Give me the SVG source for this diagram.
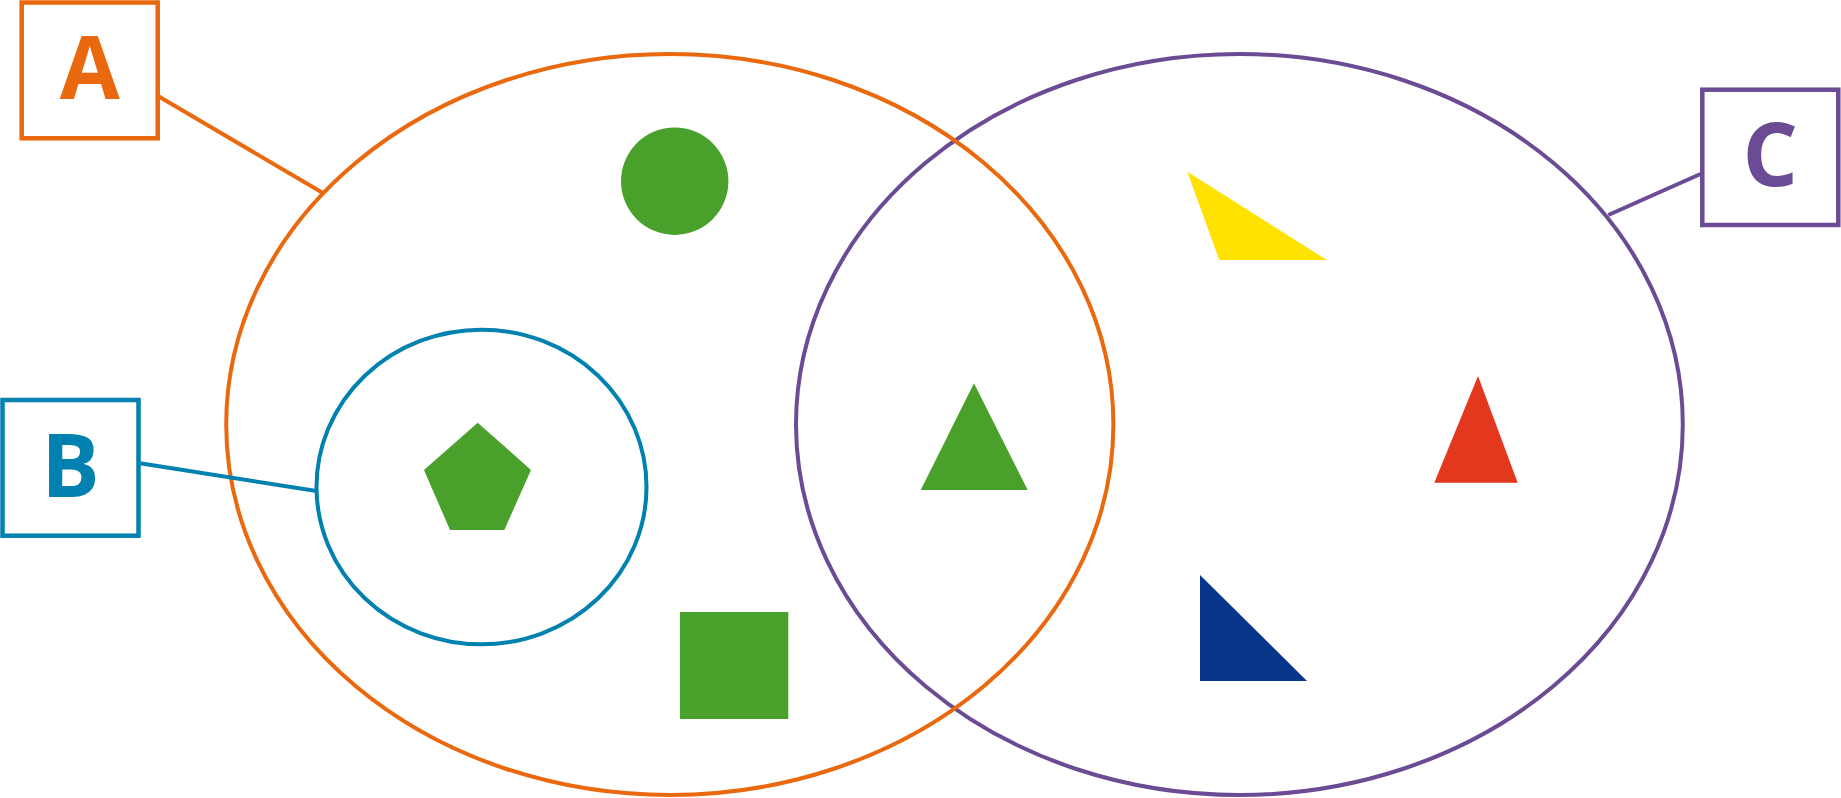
<svg xmlns="http://www.w3.org/2000/svg" width="1841" height="798" viewBox="0 0 1841 798">
<style>
.lbl{font-family:"Open Sans","Liberation Sans",sans-serif;font-weight:700;font-size:87px;text-anchor:middle}
.box{fill:#fff;stroke-width:4.5}
.ring{fill:none;stroke-width:4}
.org{stroke:#EA680E}
.blu{stroke:#0081B0}
.pur{stroke:#6A4B94}
.grn{fill:#49A12C}
</style>
<rect width="1841" height="798" fill="#fff"/>
<g id="set-C"><ellipse class="ring pur" cx="1239.4" cy="424.5" rx="443.4" ry="370.5"/></g>
<g id="set-A"><ellipse class="ring org" cx="669.8" cy="424.5" rx="443.6" ry="370.5"/></g>
<g id="set-B"><ellipse class="ring blu" cx="481.5" cy="487" rx="165" ry="157.3"/></g>
<g id="shapes">
<circle id="green-circle" class="grn" cx="674.7" cy="181.2" r="53.7"/>
<polygon id="green-pentagon" class="grn" points="477.7,422.7 531,470 504.3,530 450,530 424,470"/>
<rect id="green-square" class="grn" x="680" y="612" width="108.3" height="107"/>
<polygon id="green-triangle" class="grn" points="974,383.3 1027.7,490 920.7,490"/>
<polygon id="yellow-triangle" fill="#FFE200" points="1187.3,171.7 1326.7,260 1219.3,260"/>
<polygon id="red-triangle" fill="#E3371E" points="1478,376 1517.7,482.7 1434.3,482.7"/>
<polygon id="navy-triangle" fill="#06358A" points="1200,575 1307,681 1200,681"/>
</g>
<g id="connectors" fill="none" stroke-width="4">
<line class="org" x1="158" y1="96" x2="322.5" y2="192.8"/>
<line class="blu" x1="140" y1="463.3" x2="316.5" y2="491"/>
<line class="pur" x1="1700.5" y1="174" x2="1608.3" y2="215"/>
</g>
<g id="label-A"><rect class="box org" x="21.7" y="2.5" width="136" height="135.8"/><text class="lbl" x="89.7" y="99" fill="#EA680E">A</text></g>
<g id="label-B"><rect class="box blu" x="2.5" y="400" width="136" height="135.7"/><text class="lbl" x="70.5" y="497.3" fill="#0081B0">B</text></g>
<g id="label-C"><rect class="box pur" x="1702.3" y="89.7" width="136" height="135.3"/><text class="lbl" x="1770.3" y="186" fill="#6A4B94">C</text></g>
</svg>
